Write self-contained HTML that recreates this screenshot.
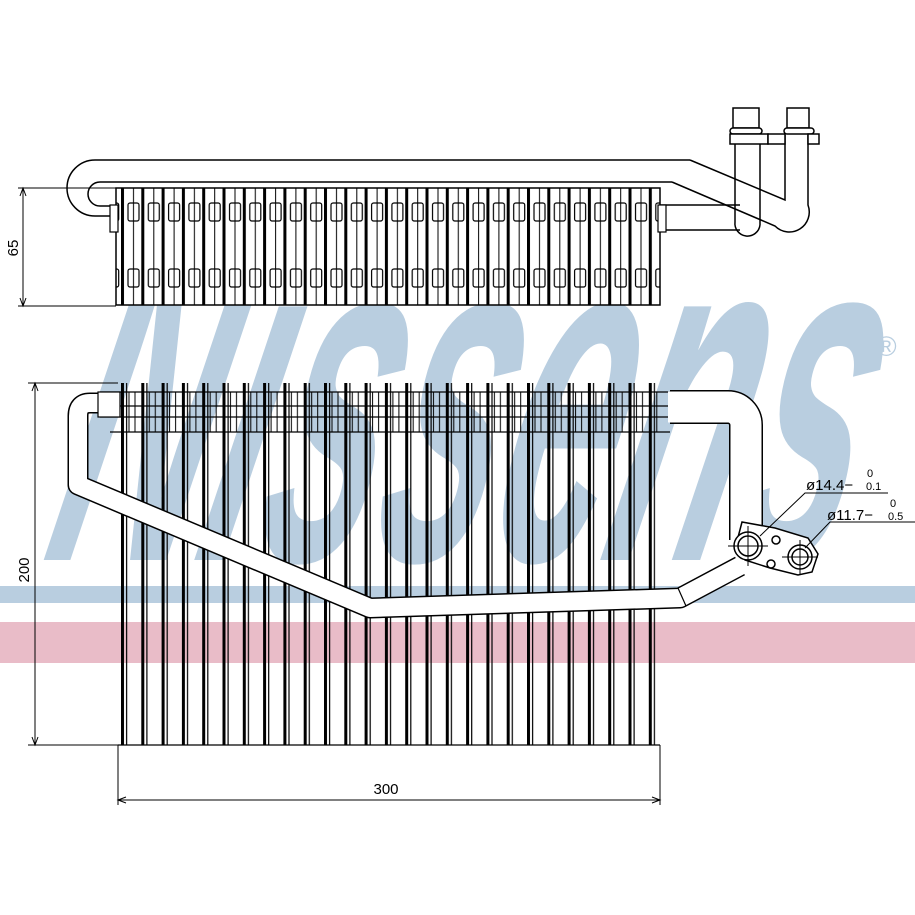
<!DOCTYPE html>
<html><head><style>html,body{margin:0;padding:0;background:#fff}svg{display:block}</style></head>
<body>
<svg width="915" height="915" viewBox="0 0 915 915" xmlns="http://www.w3.org/2000/svg" font-family="Liberation Sans, sans-serif">
<defs>
<pattern id="tubes" x="121" y="0" width="20.3" height="915" patternUnits="userSpaceOnUse">
<rect x="0" y="0" width="3" height="915" fill="#000"/>
<rect x="5" y="0" width="1.2" height="915" fill="#000"/>
</pattern>
<pattern id="fins" x="121" y="0" width="20.3" height="915" patternUnits="userSpaceOnUse">
<rect x="0" y="0" width="3" height="915" fill="#000"/>
<rect x="7" y="203" width="11" height="18" rx="2" fill="none" stroke="#000" stroke-width="1.2"/>
<rect x="7" y="269" width="11" height="18" rx="2" fill="none" stroke="#000" stroke-width="1.2"/>
<line x1="12.5" y1="188" x2="12.5" y2="305" stroke="#000" stroke-width="1"/>
</pattern>
<pattern id="hdr" x="121" y="0" width="20.3" height="915" patternUnits="userSpaceOnUse">
<line x1="8" y1="392" x2="8" y2="432" stroke="#000" stroke-width="1"/>
<line x1="14" y1="392" x2="14" y2="432" stroke="#000" stroke-width="1"/>
</pattern>
</defs>
<g transform="translate(40,560) skewX(-14)">
<text x="0" y="0" font-size="480" font-style="italic" font-weight="bold" fill="#b9cee0" textLength="800" lengthAdjust="spacingAndGlyphs">Nissens</text>
</g>
<text x="876" y="356" font-size="28" fill="#b9cee0">®</text>
<rect x="0" y="586" width="915" height="17" fill="#b9cee0"/>
<rect x="0" y="622" width="915" height="41" fill="#e9bcc8"/>

<g fill="none" stroke="#000" stroke-width="1.5">
<path d="M690,160 H95 A28,28 0 0 0 95,216 H116" fill="#fff"/>
<path d="M672,182 H100 A12,12 0 0 0 100,206 H116"/>
<path d="M690,160 L785,200 V135 M672,182 L775,226 A20,20 0 0 0 808,205 V135"/>
<path d="M735,135 V222 A10,10 0 0 0 760,225 M760,135 V225"/>
<rect x="733" y="108" width="26" height="20" fill="#fff"/>
<rect x="787" y="108" width="22" height="20" fill="#fff"/>
<rect x="730" y="128" width="32" height="6" rx="3" fill="#fff"/>
<rect x="784" y="128" width="30" height="6" rx="3" fill="#fff"/>
<rect x="730" y="134" width="38" height="10" fill="#fff"/>
<rect x="768" y="134" width="17" height="10" fill="#fff"/>
<rect x="808" y="134" width="11" height="10" fill="#fff"/>
<line x1="660" y1="205" x2="740" y2="205"/>
<line x1="660" y1="230" x2="740" y2="230"/>
</g>
<rect x="116" y="188" width="544" height="117" fill="#fff" stroke="none"/>
<rect x="116" y="188" width="544" height="117" fill="url(#fins)"/>
<rect x="116" y="188" width="544" height="117" fill="none" stroke="#000" stroke-width="1.5"/>
<rect x="110" y="205" width="8" height="27" fill="#fff" stroke="#000" stroke-width="1.2"/>
<rect x="658" y="205" width="8" height="27" fill="#fff" stroke="#000" stroke-width="1.2"/>
<g stroke="#000" stroke-width="1" fill="none">
<line x1="18" y1="188" x2="116" y2="188"/><line x1="18" y1="306" x2="116" y2="306"/>
<line x1="23" y1="188" x2="23" y2="306"/>
<path d="M20,196 L23,188 L26,196 M20,298 L23,306 L26,298"/>
</g>
<text transform="translate(18,248) rotate(-90)" text-anchor="middle" font-size="15">65</text>

<rect x="118" y="383" width="542" height="362" fill="url(#tubes)"/>
<rect x="118" y="392" width="542" height="40" fill="url(#hdr)"/>
<g stroke="#000" stroke-width="1.2" fill="none">
<line x1="100" y1="392" x2="670" y2="392"/>
<line x1="100" y1="406" x2="670" y2="406"/>
<line x1="100" y1="417" x2="670" y2="417"/>
<line x1="110" y1="432" x2="670" y2="432"/>
<line x1="118" y1="745" x2="660" y2="745"/>
</g>
<path d="M670,407 H728 A18,18 0 0 1 746,425 V540" fill="none" stroke="#000" stroke-width="34" stroke-linejoin="round"/>
<path d="M668,407 H728 A18,18 0 0 1 746,425 V545" fill="none" stroke="#fff" stroke-width="31" stroke-linejoin="round"/>
<path d="M102,403 H90 Q78,403 78,416 V485 L370,608 L680,598 L740,566" fill="none" stroke="#000" stroke-width="21" stroke-linejoin="round"/>
<path d="M104,403 H90 Q78,403 78,416 V485 L370,608 L680,598 L742,565" fill="none" stroke="#fff" stroke-width="18" stroke-linejoin="round"/>
<line x1="678" y1="588" x2="686" y2="606" stroke="#000" stroke-width="1.2"/>
<rect x="98" y="392" width="22" height="25" fill="#fff" stroke="#000" stroke-width="1.2"/>
<g fill="#fff" stroke="#000" stroke-width="1.5">
<path d="M742,522 L775,528 L808,538 L818,554 L812,572 L798,575 L770,568 L745,560 L736,545 Z"/>
<circle cx="748" cy="546" r="14"/><circle cx="748" cy="546" r="10"/>
<circle cx="800" cy="557" r="12"/><circle cx="800" cy="557" r="8"/>
<circle cx="776" cy="540" r="4"/><circle cx="771" cy="564" r="4"/>
</g>
<g stroke="#000" stroke-width="1" fill="none">
<line x1="728" y1="546" x2="768" y2="546"/><line x1="748" y1="526" x2="748" y2="566"/>
<line x1="782" y1="557" x2="818" y2="557"/><line x1="800" y1="540" x2="800" y2="575"/>
<path d="M760,536 L805,493 H888"/>
<path d="M805,548 L830,522 H915"/>
</g>
<text x="806" y="490" font-size="15">ø14.4−</text>
<text x="867" y="477" font-size="11">0</text><text x="866" y="490" font-size="11">0.1</text>
<text x="827" y="520" font-size="15">ø11.7−</text>
<text x="890" y="507" font-size="11">0</text><text x="888" y="520" font-size="11">0.5</text>
<g stroke="#000" stroke-width="1" fill="none">
<line x1="28" y1="383" x2="118" y2="383"/><line x1="28" y1="745" x2="118" y2="745"/>
<line x1="35" y1="383" x2="35" y2="745"/>
<path d="M32,391 L35,383 L38,391 M32,737 L35,745 L38,737"/>
<line x1="118" y1="745" x2="118" y2="805"/><line x1="660" y1="745" x2="660" y2="805"/>
<line x1="118" y1="800" x2="660" y2="800"/>
<path d="M126,797 L118,800 L126,803 M652,797 L660,800 L652,803"/>
</g>
<text transform="translate(29,570) rotate(-90)" text-anchor="middle" font-size="15">200</text>
<text x="386" y="794" text-anchor="middle" font-size="15">300</text>
</svg>
</body></html>
